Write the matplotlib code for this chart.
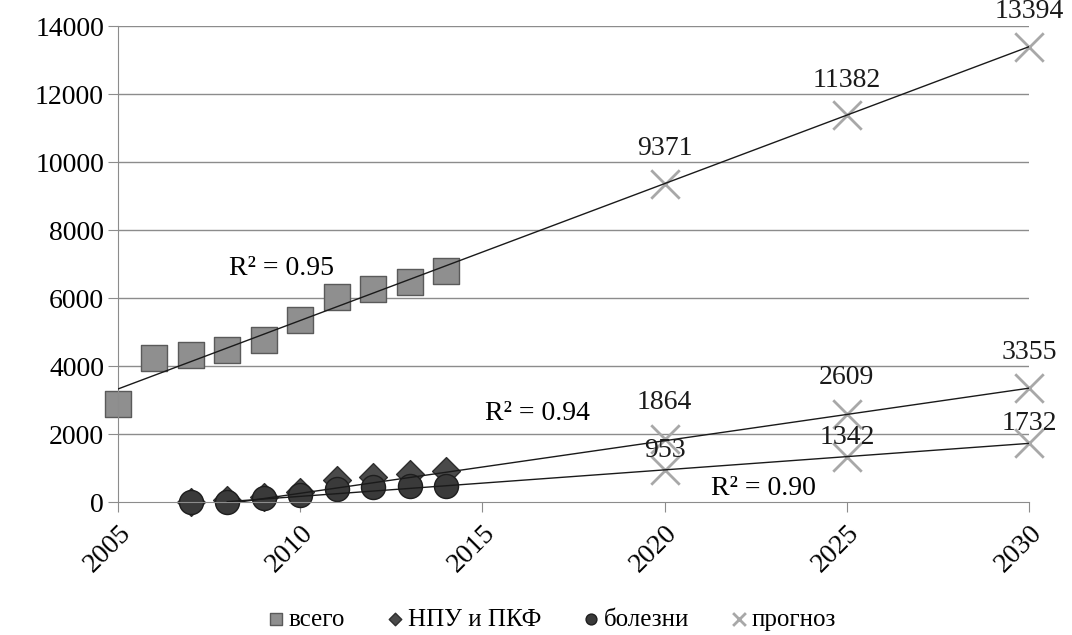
import matplotlib
matplotlib.use("Agg")
import matplotlib.pyplot as plt

plt.rcParams["font.family"] = ["Liberation Serif", "DejaVu Serif"]

# ── Data ──────────────────────────────────────────────────────────────────────
years_total = [2005, 2006, 2007, 2008, 2009, 2010, 2011, 2012, 2013, 2014]
total       = [2900, 4250, 4320, 4470, 4760, 5350, 6030, 6280, 6480, 6800]

years_sub = [2007, 2008, 2009, 2010, 2011, 2012, 2013, 2014]
npu       = [0, 60, 170, 290, 650, 750, 820, 920]
disease   = [0, 20, 120, 200, 400, 450, 480, 480]

fc_years    = [2020, 2025, 2030]
fc_total    = [9371, 11382, 13394]
fc_npu      = [1864, 2609, 3355]
fc_disease  = [953, 1342, 1732]

# trend line end points (linear trends)
trend_total_x   = [2005, 2030]
trend_total_y   = [3330, 13394]
trend_npu_x     = [2008, 2030]
trend_npu_y     = [-45, 3355]
trend_dis_x     = [2008, 2030]
trend_dis_y     = [18, 1732]

r2_labels = ["R² = 0.95", "R² = 0.94", "R² = 0.90"]
r2_pos    = [(2009.5, 6880), (2016.5, 2620), (2022.7, 410)]

xticks = [2005, 2010, 2015, 2020, 2025, 2030]
yticks = list(range(0, 14001, 2000))

FS = 20

# ── Plot ──────────────────────────────────────────────────────────────────────
fig = plt.figure(figsize=(10.72, 6.35), dpi=100)
ax = fig.add_axes([0.110, 0.209, 0.850, 0.750])

for y in yticks[1:]:
    ax.axhline(y, color="#8c8c8c", linewidth=1, zorder=0)

ax.plot(trend_total_x, trend_total_y, color="#1a1a1a", linewidth=1, zorder=3)
ax.plot(trend_npu_x, trend_npu_y, color="#1a1a1a", linewidth=1, zorder=3)
ax.plot(trend_dis_x, trend_dis_y, color="#1a1a1a", linewidth=1, zorder=3)

ax.scatter(years_total, total, marker="s", s=360, color="#8f8f8f",
           edgecolors="#5a5a5a", linewidths=1, zorder=2, clip_on=False, label="всего")
ax.scatter(years_sub, npu, marker="D", s=200, color="#4a4a4a",
           edgecolors="#2e2e2e", linewidths=1, zorder=2, clip_on=False, label="НПУ и ПКФ")
ax.scatter(years_sub, disease, marker="o", s=300, color="#3a3a3a",
           edgecolors="#1e1e1e", linewidths=1, zorder=2, clip_on=False, label="болезни")
for fy in (fc_total, fc_npu, fc_disease):
    ax.scatter(fc_years, fy, marker="x", s=420, color="#a8a8a8", linewidths=2,
               zorder=2, clip_on=False, label="прогноз" if fy is fc_total else None)

for ys, off in ((fc_total, 25), (fc_npu, 26), (fc_disease, 14)):
    for x, y in zip(fc_years, ys):
        ax.annotate(str(y), (x, y), xytext=(0, off), textcoords="offset points",
                    ha="center", va="center", fontsize=FS, color="#1a1a1a",
                    annotation_clip=False)

for txt, (x, y) in zip(r2_labels, r2_pos):
    ax.text(x, y, txt, fontsize=FS, ha="center", va="center")

ax.set_xlim(2005, 2030)
ax.set_ylim(0, 14000)
ax.set_xticks(xticks)
ax.set_yticks(yticks)
ax.set_xticklabels([str(x) for x in xticks], rotation=45, ha="right",
                   rotation_mode="anchor", fontsize=FS)
ax.set_yticklabels([str(y) for y in yticks], fontsize=FS)
ax.tick_params(axis="both", color="#8c8c8c", length=7)
ax.tick_params(axis="y", pad=3)
ax.tick_params(axis="x", pad=6)

for s in ("top", "right"):
    ax.spines[s].set_visible(False)
for s in ("left", "bottom"):
    ax.spines[s].set_color("#8c8c8c")

leg = fig.legend(loc="center", bbox_to_anchor=(0.513, 0.024), ncol=4,
                 frameon=False, fontsize=18, handletextpad=0.0, handlelength=1.0,
                 columnspacing=1.5, markerscale=0.45, scatterpoints=1,
                 borderpad=0.0)

fig.savefig("out.png", dpi=100)
